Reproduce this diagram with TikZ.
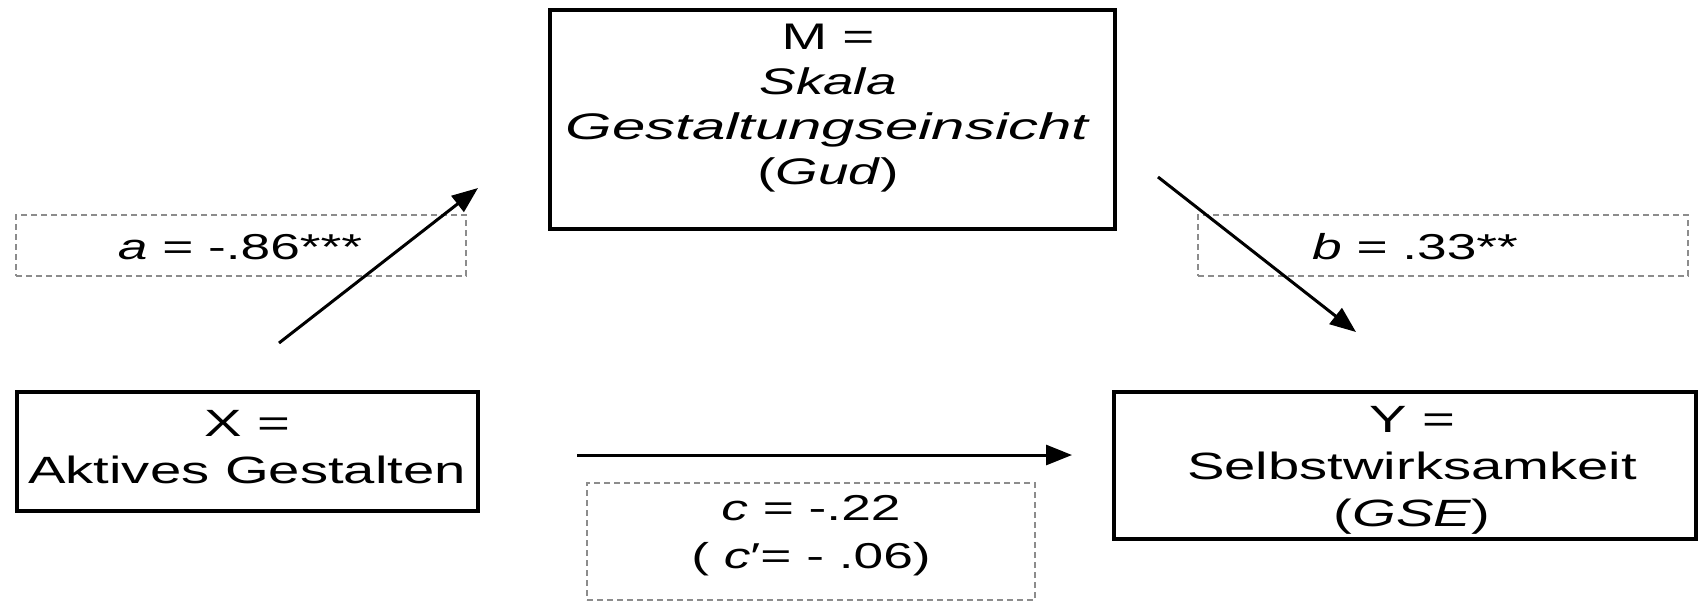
\documentclass[tikz,border=0pt]{standalone}
\usepackage{fontspec}
\setmainfont{Liberation Sans}
\usetikzlibrary{arrows.meta,fit}
\newcommand{\sx}[1]{\scalebox{1.48}[1]{#1}}
\newcommand{\sxw}[1]{\scalebox{1.62}[1]{#1}}
\begin{document}
\begin{tikzpicture}[x=0.5pt,y=-0.5pt,
  mainbox/.style={draw=black,line width=2pt,inner sep=0pt,fill=none},
  dashbox/.style={draw=black!45,line width=0.6pt,dash pattern=on 3pt off 2pt,inner sep=0pt},
  boxtext/.style={align=center,inner sep=0pt,font=\fontsize{19}{23.5}\selectfont},
  mtext/.style={align=center,inner sep=0pt,font=\fontsize{18.5}{22.5}\selectfont},
  labtext/.style={align=center,inner sep=0pt,font=\fontsize{18}{24}\selectfont},
  path/.style={line width=1.5pt,-{Triangle[length=13pt,width=10pt]}}]
\useasboundingbox (0,0) rectangle (1701,602);
% main boxes
\node[mainbox,fit={(550,10) (1115,229)}] (M) {};
\node[mainbox,fit={(17,392) (478,511)}] (X) {};
\node[mainbox,fit={(1114,392) (1696,539)}] (Y) {};
% dashed label boxes
\node[dashbox,fit={(16,215) (466,276)}] (abox) {};
\node[dashbox,fit={(1198,215) (1688,276)}] (bbox) {};
\node[dashbox,fit={(587,483) (1035,600)}] (cbox) {};
% texts
\node[mtext] (Mt) at (828,108) {\sx{M =}\\\sx{\textit{Skala}}\\\sxw{\textit{Gestaltungseinsicht}}\\\sx{(\textit{Gud})}};
\node[boxtext] (Xt) at (247,447) {\sx{X =}\\\sx{Aktives Gestalten}};
\node[boxtext] (Yt) at (1412,470) {\sx{Y =}\\\sx{Selbstwirksamkeit}\\\sx{(\textit{GSE})}};
\node[labtext] (at) at (240,247) {\sx{\textit{a} = -.86***}};
\node[labtext] (bt) at (1415,247) {\sx{\textit{b} = .33**}};
\node[labtext] (ct) at (811,536) {\sx{\textit{c} = -.22}\\\sx{( \textit{c}′= - .06)}};
% connector end points
\coordinate (a0) at (279,343);
\coordinate (a1) at (478,188);
\coordinate (b0) at (1158,177);
\coordinate (b1) at (1356,332);
\coordinate (c0) at (577,455);
\coordinate (c1) at (1072,455);
\draw[path] (a0) -- (a1);
\draw[path] (b0) -- (b1);
\draw[path] (c0) -- (c1);
\end{tikzpicture}
\end{document}
